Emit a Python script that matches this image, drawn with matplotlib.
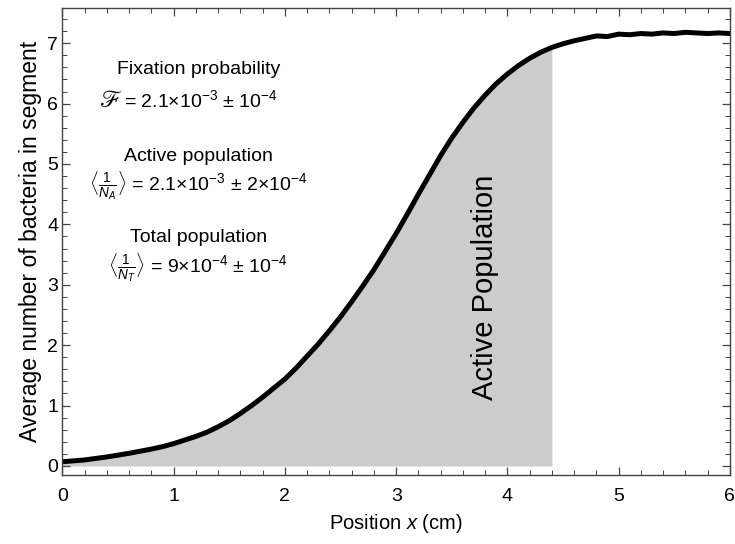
import numpy as np
import matplotlib
matplotlib.use('Agg')
import matplotlib.pyplot as plt
from matplotlib.ticker import MultipleLocator

# Data
position = [0.0, 0.1, 0.2, 0.3, 0.4, 0.5, 0.6, 0.7, 0.8, 0.9,
            1.0, 1.1, 1.2, 1.3, 1.4, 1.5, 1.6, 1.7, 1.8, 1.9,
            2.0, 2.1, 2.2, 2.3, 2.4, 2.5, 2.6, 2.7, 2.8, 2.9,
            3.0, 3.1, 3.2, 3.3, 3.4, 3.5, 3.6, 3.7, 3.8, 3.9,
            4.0, 4.1, 4.2, 4.3, 4.4, 4.5, 4.6, 4.7, 4.8, 4.9,
            5.0, 5.1, 5.2, 5.3, 5.4, 5.5, 5.6, 5.7, 5.8, 5.9, 6.0]
bacteria = [0.07, 0.085, 0.10, 0.125, 0.15, 0.18, 0.21, 0.245, 0.28, 0.32,
            0.37, 0.43, 0.49, 0.56, 0.65, 0.75, 0.87, 1.00, 1.14, 1.29,
            1.44, 1.62, 1.82, 2.02, 2.24, 2.47, 2.72, 2.98, 3.25, 3.55,
            3.85, 4.17, 4.50, 4.82, 5.14, 5.43, 5.69, 5.93, 6.14, 6.33,
            6.49, 6.63, 6.75, 6.85, 6.93, 6.99, 7.04, 7.08, 7.12, 7.11,
            7.15, 7.14, 7.16, 7.15, 7.17, 7.16, 7.18, 7.17, 7.16, 7.17, 7.16]
active_edge = 4.4

plt.rcParams['font.family'] = ['Liberation Sans', 'DejaVu Sans']
plt.rcParams['mathtext.fontset'] = 'custom'
plt.rcParams['mathtext.rm'] = 'Liberation Sans'
plt.rcParams['mathtext.it'] = 'Liberation Sans:italic'

x = np.array(position)
y = np.array(bacteria)

fig = plt.figure(figsize=(7.35, 5.44), dpi=100)
ax = fig.add_axes([0.085, 0.126, 0.908, 0.859])

mask = x <= active_edge
ax.fill_between(x[mask], 0, y[mask], color='#cccccc', lw=0)
ax.plot(x, y, color='black', lw=3.6, solid_capstyle='round')

ax.set_xlim(0, 6)
ax.set_ylim(-0.157, 7.58)
ax.xaxis.set_major_locator(MultipleLocator(1))
ax.xaxis.set_minor_locator(MultipleLocator(0.2))
ax.yaxis.set_major_locator(MultipleLocator(1))
ax.yaxis.set_minor_locator(MultipleLocator(0.2))
ax.tick_params(which='both', direction='in', top=True, right=True,
               labelsize=14, color='#444444')
ax.tick_params(axis='x', pad=9)
ax.tick_params(axis='y', pad=3)
ax.tick_params(which='major', length=6, width=0.9)
ax.tick_params(which='minor', length=3.5, width=0.7)
for s in ax.spines.values():
    s.set_color('#444444')
    s.set_linewidth(1.0)

ax.set_xlabel('Position $x$ (cm)', fontsize=14.5, labelpad=5)
ax.set_ylabel('Average number of bacteria in segment', fontsize=16.5, labelpad=4)

# Annotations
cx = 1.22
txt = dict(ha='center', va='center', fontsize=14)
ax.text(cx, 6.56, 'Fixation probability', **txt)
ax.text(0.555, 6.06, '= 2.1\u00d710$^{-3}$ \u00b1 10$^{-4}$', ha='left', va='center', fontsize=14)
ax.text(0.53, 6.04, '\u2131', ha='right', va='center', fontsize=17,
        family=['STIXGeneral', 'DejaVu Sans'])
ax.text(cx, 5.12, 'Active population', **txt)
ax.text(cx, 4.64, r'$\langle\frac{1}{N_A}\rangle$ = 2.1' + '\u00d7' + r'10$^{-3}$ ' + '\u00b1' + r' 2' + '\u00d7' + r'10$^{-4}$', **txt)
ax.text(cx, 3.78, 'Total population', **txt)
ax.text(cx, 3.28, r'$\langle\frac{1}{N_T}\rangle$ = 9' + '\u00d7' + r'10$^{-4}$ ' + '\u00b1' + r' 10$^{-4}$', **txt)

ax.text(3.80, 2.95, 'Active Population', rotation=90, ha='center', va='center',
        fontsize=21)

fig.savefig('out.png', dpi=100)
